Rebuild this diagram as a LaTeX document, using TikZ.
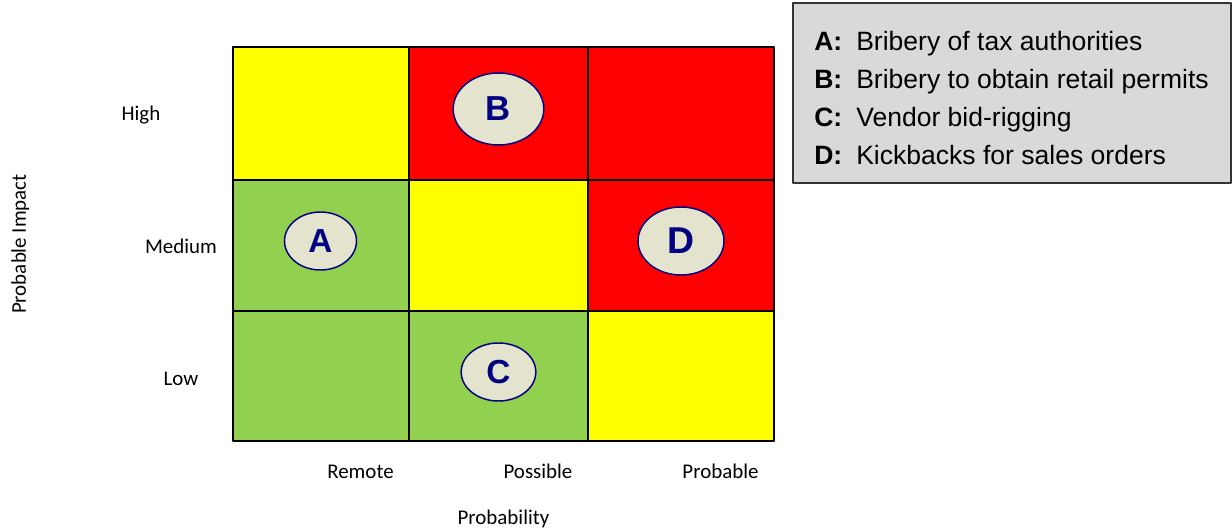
\documentclass[tikz,border=0pt]{standalone}
\usepackage{fontspec}
\setmainfont{Carlito}
\newfontfamily\legendfont{Liberation Sans}
\usetikzlibrary{shapes.geometric}
\definecolor{riskred}{RGB}{255,0,0}
\definecolor{riskyellow}{RGB}{255,255,0}
\definecolor{riskgreen}{RGB}{146,208,80}
\definecolor{risknavy}{RGB}{0,0,128}
\definecolor{riskbeige}{RGB}{228,228,206}
\definecolor{legendgray}{RGB}{217,217,217}
\tikzset{
	axislabel/.style={font=\fontsize{15.7}{19}\selectfont, inner sep=0pt, anchor=base},
	riskmark/.style={ellipse, draw=risknavy, line width=1.1pt, fill=riskbeige, text=risknavy, font=\legendfont\bfseries\fontsize{#1}{30}\selectfont, inner sep=0pt},
	riskmark/.default=25,
	legendtext/.style={font=\legendfont\fontsize{19.9}{24}\selectfont, anchor=base west, inner sep=0pt}
}
\begin{document}
\begin{tikzpicture}[x=0.75pt, y=-0.75pt, line join=round]
			\useasboundingbox (0,0) rectangle (1232,531);
			% cells of the matrix
			\foreach \xa/\xb/\ya/\yb/\col in {233/409/47/180/riskyellow, 409/588/47/180/riskred, 588/774/47/180/riskred,
				233/409/180/311/riskgreen, 409/588/180/311/riskyellow, 588/774/180/311/riskred,
				233/409/311/441/riskgreen, 409/588/311/441/riskgreen, 588/774/311/441/riskyellow}
				\fill[\col] (\xa,\ya) rectangle (\xb,\yb);
			\draw[line width=1.5pt] (233,47) rectangle (774,441);
			\foreach \x in {409,588} \draw[line width=1.5pt] (\x,47) -- (\x,441);
			\foreach \y in {180,311} \draw[line width=1.5pt] (233,\y) -- (774,\y);
			% risks
			\node[riskmark=26, minimum width=68pt, minimum height=54pt] (riskB) at (498.5,109) {B};
			\node[riskmark, minimum width=54pt, minimum height=43.5pt] (riskA) at (320.5,241) {A};
			\node[riskmark, minimum width=56pt, minimum height=43.5pt] (riskC) at (498.5,372) {C};
			\node[riskmark=28, minimum width=64.5pt, minimum height=51pt] (riskD) at (681,241) {D};
			% axis labels
			\node[axislabel] (high) at (141,121) {High};
			\node[axislabel] (medium) at (181,253) {Medium};
			\node[axislabel] (low) at (181,385) {Low};
			\node[axislabel] (remote) at (360.5,478) {Remote};
			\node[axislabel] (possible) at (538,478) {Possible};
			\node[axislabel] (probable) at (720.5,478) {Probable};
			\node[axislabel] (probability) at (503.5,524) {Probability};
			\node[axislabel, rotate=90] (impact) at (26,244) {Probable Impact};
			% legend
			\draw[fill=legendgray, draw=black!80, line width=1.1pt] (793,3) rectangle (1231,183);
			\foreach \lbl/\txt/\yy in {A/Bribery of tax authorities/51, B/Bribery to obtain retail permits/89,
				C/Vendor bid-rigging/127, D/Kickbacks for sales orders/165} {
				\node[legendtext] (key\lbl) at (814,\yy) {\textbf{\lbl:}};
				\node[legendtext] (desc\lbl) at (856,\yy) {\txt};
			}
		\end{tikzpicture}
\end{document}
